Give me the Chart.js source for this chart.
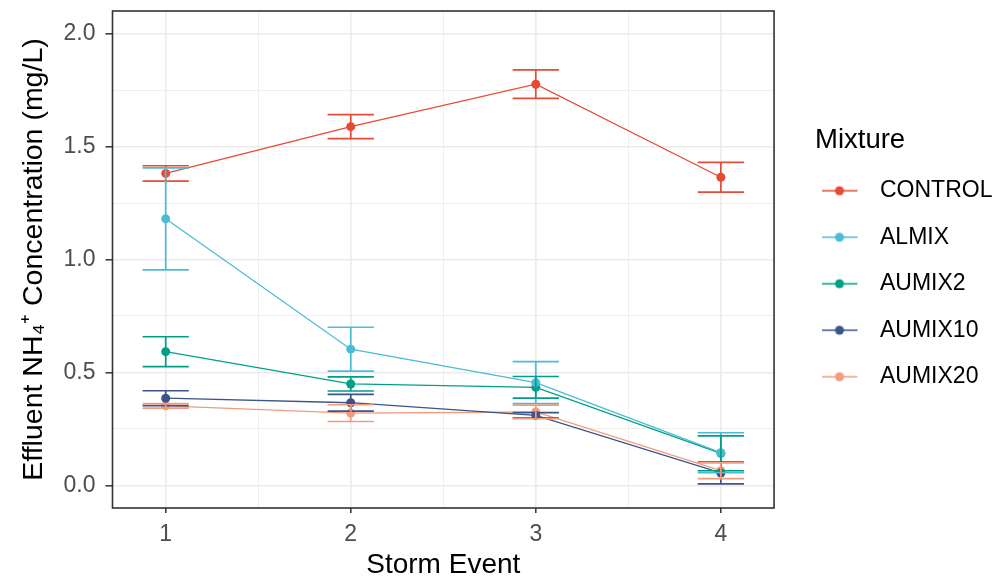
<!DOCTYPE html>
<html>
<head>
<meta charset="utf-8">
<script src="https://cdn.jsdelivr.net/npm/chart.js@4.4.0/dist/chart.umd.min.js"></script>
<style>
  html, body { margin: 0; padding: 0; background: #fff; }
  #wrap { width: 997px; height: 579px; }
</style>
</head>
<body>
<div id="wrap"><canvas id="chart"></canvas></div>
<script>
// storm events on the x axis
const stormEvents = [1, 2, 3, 4];
const mixtures = ['CONTROL', 'ALMIX', 'AUMIX2', 'AUMIX10', 'AUMIX20'];

// mean effluent NH4+ (mg/L) and error (half length of the bar)
const controlMean = [1.381, 1.588, 1.776, 1.364];
const controlErr  = [0.034, 0.053, 0.063, 0.066];
const almixMean   = [1.180, 0.603, 0.455, 0.145];
const almixErr    = [0.226, 0.097, 0.093, 0.088];
const aumix2Mean  = [0.592, 0.449, 0.434, 0.142];
const aumix2Err   = [0.066, 0.031, 0.048, 0.077];
const aumix10Mean = [0.386, 0.366, 0.310, 0.055];
const aumix10Err  = [0.033, 0.037, 0.012, 0.048];
const aumix20Mean = [0.352, 0.320, 0.325, 0.065];
const aumix20Err  = [0.010, 0.037, 0.030, 0.035];

const xTickValues = [1, 2, 3, 4];
const xTickLabels = ['1', '2', '3', '4'];
const xMinorValues = [1.5, 2.5, 3.5];
const yTickValues = [0, 0.5, 1, 1.5, 2];
const yTickLabels = ['0.0', '0.5', '1.0', '1.5', '2.0'];
const yMinorValues = [0.25, 0.75, 1.25, 1.75];

const colors = ['#E64B35', '#4DBBD5', '#00A087', '#3C5488', '#F39B7F'];
const means = [controlMean, almixMean, aumix2Mean, aumix10Mean, aumix20Mean];
const errors = [controlErr, almixErr, aumix2Err, aumix10Err, aumix20Err];

const FONT = "'Liberation Sans', Arial, Helvetica, sans-serif";
const capHalf = 0.125;

const datasets = mixtures.map((name, i) => ({
  label: name,
  data: stormEvents.map((e, j) => ({ x: e, y: means[i][j] })),
  borderColor: colors[i],
  backgroundColor: colors[i],
  borderWidth: 1.3,
  pointRadius: 4.5,
  pointBorderWidth: 0,
  pointBackgroundColor: colors[i],
  tension: 0
}));

// little line+dot key for the legend
function legendKey(color) {
  const c = document.createElement('canvas');
  c.width = 64; c.height = 12;
  const g = c.getContext('2d');
  g.strokeStyle = color; g.lineWidth = 1.5;
  g.beginPath(); g.moveTo(0, 6); g.lineTo(36, 6); g.stroke();
  g.fillStyle = color;
  g.beginPath(); g.arc(18, 6, 4.5, 0, Math.PI * 2); g.fill();
  return c;
}

const errorBars = {
  id: 'errorBars',
  afterDatasetsDraw(chart) {
    const { ctx, scales: { x, y } } = chart;
    ctx.save();
    ctx.lineWidth = 1.7;
    chart.data.datasets.forEach((ds, i) => {
      ctx.strokeStyle = colors[i];
      ds.data.forEach((p, j) => {
        const px = x.getPixelForValue(p.x);
        const x0 = x.getPixelForValue(p.x - capHalf);
        const x1 = x.getPixelForValue(p.x + capHalf);
        const hi = y.getPixelForValue(p.y + errors[i][j]);
        const lo = y.getPixelForValue(p.y - errors[i][j]);
        ctx.beginPath();
        ctx.moveTo(px, hi); ctx.lineTo(px, lo);
        ctx.moveTo(x0, hi); ctx.lineTo(x1, hi);
        ctx.moveTo(x0, lo); ctx.lineTo(x1, lo);
        ctx.stroke();
      });
    });
    ctx.restore();
  }
};

const panelBorder = {
  id: 'panelBorder',
  afterDraw(chart) {
    const { ctx, chartArea: a } = chart;
    ctx.save();
    ctx.strokeStyle = '#333333';
    ctx.lineWidth = 1.6;
    ctx.strokeRect(a.left, a.top, a.right - a.left, a.bottom - a.top);
    ctx.restore();
  }
};

// move the legend block to where ggplot puts it
const legendPlace = {
  id: 'legendPlace',
  afterLayout(chart) {
    const lg = chart.legend;
    const dx = 815 - lg.left;
    lg.left += dx; lg.right += dx;
    lg.top -= 26; lg.bottom -= 26;
  }
};

const isIn = (arr, v) => arr.some(t => Math.abs(t - v) < 1e-6);

new Chart(document.getElementById('chart'), {
  type: 'line',
  data: { datasets: datasets },
  plugins: [errorBars, panelBorder, legendPlace],
  options: {
    responsive: true,
    maintainAspectRatio: false,
    animation: false,
    layout: { padding: { top: 11, right: 35.5, bottom: 0, left: 0 } },
    plugins: {
      tooltip: { enabled: false },
      legend: {
        position: 'right',
        title: {
          display: true,
          text: 'Mixture',
          position: 'start',
          color: '#000',
          padding: { top: 0, bottom: 2 },
          font: { family: FONT, size: 27.5, lineHeight: 1 }
        },
        labels: {
          color: '#1A1A1A',
          font: { family: FONT, size: 23 },
          usePointStyle: true,
          pointStyleWidth: 30,
          padding: 23.5,
          generateLabels: (chart) => mixtures.map((m, i) => ({
            text: m,
            pointStyle: legendKey(colors[i]),
            fillStyle: colors[i],
            strokeStyle: colors[i],
            lineWidth: 0,
            hidden: false,
            datasetIndex: i
          }))
        }
      }
    },
    scales: {
      x: {
        type: 'linear',
        min: 0.7125,
        max: 4.2875,
        afterBuildTicks: (s) => {
          s.ticks = xTickValues.concat(xMinorValues).sort((a, b) => a - b).map(v => ({ value: v }));
        },
        afterFit: (s) => {
          s.height = 71;
          s.paddingLeft = 0; s.paddingRight = 0;
        },
        border: { display: false },
        grid: {
          color: '#EBEBEB',
          lineWidth: (c) => isIn(xTickValues, c.tick.value) ? 1.6 : 0.8,
          tickLength: 5,
          tickWidth: 1.5,
          tickColor: (c) => isIn(xTickValues, c.tick.value) ? '#333333' : 'rgba(0,0,0,0)'
        },
        ticks: {
          autoSkip: false,
          maxRotation: 0,
          padding: 8,
          color: '#4D4D4D',
          font: { family: FONT, size: 23 },
          callback: (v) => {
            const k = xTickValues.findIndex(t => Math.abs(t - v) < 1e-6);
            return k >= 0 ? xTickLabels[k] : '';
          }
        },
        title: {
          display: true,
          text: 'Storm Event',
          color: '#000',
          padding: 0,
          font: { family: FONT, size: 28, lineHeight: 1 }
        }
      },
      y: {
        type: 'linear',
        min: -0.1,
        max: 2.1,
        afterBuildTicks: (s) => {
          s.ticks = yTickValues.concat(yMinorValues).sort((a, b) => a - b).map(v => ({ value: v }));
        },
        afterFit: (s) => {
          s.width = 112.5;
          s.paddingTop = 0; s.paddingBottom = 0;
        },
        border: { display: false },
        grid: {
          color: '#EBEBEB',
          lineWidth: (c) => isIn(yTickValues, c.tick.value) ? 1.6 : 0.8,
          tickLength: 7,
          tickWidth: 1.5,
          tickColor: (c) => isIn(yTickValues, c.tick.value) ? '#333333' : 'rgba(0,0,0,0)'
        },
        ticks: {
          autoSkip: false,
          padding: 10,
          color: '#4D4D4D',
          font: { family: FONT, size: 23 },
          callback: (v) => {
            const k = yTickValues.findIndex(t => Math.abs(t - v) < 1e-6);
            return k >= 0 ? yTickLabels[k] : '';
          }
        },
        title: {
          display: true,
          text: 'Effluent NH\u2084\u207A Concentration (mg/L)',
          color: '#000',
          padding: { top: 19.5, bottom: 0 },
          font: { family: FONT, size: 28.5, lineHeight: 1 }
        }
      }
    }
  }
});
</script>
</body>
</html>
